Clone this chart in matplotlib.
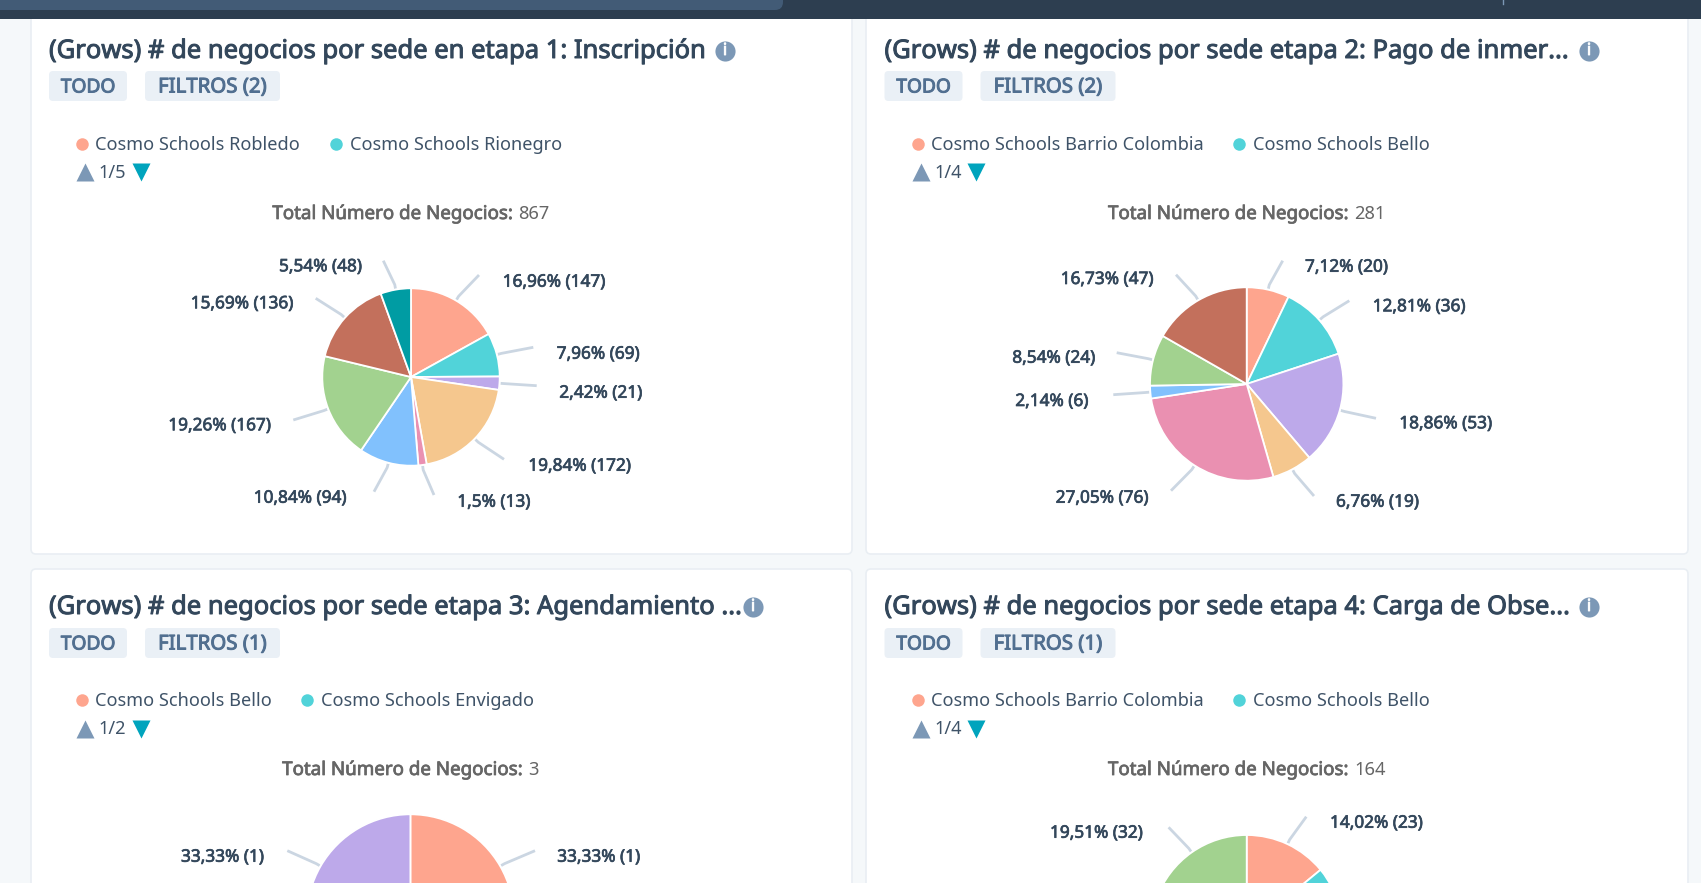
import matplotlib
matplotlib.use("Agg")
import matplotlib.pyplot as plt
import matplotlib.patheffects as pe
import numpy as np
from matplotlib.patches import FancyBboxPatch, Rectangle

W = 1701
H = 883
FONT = ["Noto Sans", "DejaVu Sans"]
plt.rcParams["font.family"] = FONT

# palette, same order in all the pies
peach = "#fea58e"
teal = "#51d3d9"
purple = "#bda9ea"
orange = "#f5c78e"
pink = "#ea90b1"
blue = "#81c1fd"
green = "#a2d28f"
brown = "#c3705c"
dark_teal = "#009ca3"

titles = ["(Grows) # de negocios por sede en etapa 1: Inscripción",
          "(Grows) # de negocios por sede etapa 2: Pago de inmer...",
          "(Grows) # de negocios por sede etapa 3: Agendamiento ...",
          "(Grows) # de negocios por sede etapa 4: Carga de Obse..."]
filters = ["FILTROS (2)", "FILTROS (2)", "FILTROS (1)", "FILTROS (1)"]
legend_a = ["Cosmo Schools Robledo", "Cosmo Schools Barrio Colombia", "Cosmo Schools Bello", "Cosmo Schools Barrio Colombia"]
legend_b = ["Cosmo Schools Rionegro", "Cosmo Schools Bello", "Cosmo Schools Envigado", "Cosmo Schools Bello"]
pages = ["1/5", "1/4", "1/2", "1/4"]
totals = ["867", "281", "3", "164"]

values1 = [147, 69, 21, 172, 13, 94, 167, 136, 48]
labels1 = ["16,96% (147)", "7,96% (69)", "2,42% (21)", "19,84% (172)", "1,5% (13)",
           "10,84% (94)", "19,26% (167)", "15,69% (136)", "5,54% (48)"]
colors1 = [peach, teal, purple, orange, pink, blue, green, brown, dark_teal]

values2 = [20, 36, 53, 19, 76, 6, 24, 47]
labels2 = ["7,12% (20)", "12,81% (36)", "18,86% (53)", "6,76% (19)", "27,05% (76)",
           "2,14% (6)", "8,54% (24)", "16,73% (47)"]
colors2 = [peach, teal, purple, orange, pink, blue, green, brown]

values3 = [1, 1, 1]
labels3 = ["33,33% (1)", None, "33,33% (1)"]
colors3 = [peach, teal, purple]

# only the first and last slice of this one are visible, the middle is a guess
values4 = [23, 26, 35, 24, 24, 32]
labels4 = ["14,02% (23)", None, None, None, None, "19,51% (32)"]
colors4 = [peach, teal, purple, orange, pink, green]

# layout, in reference pixels
card_dx = [0, 835.5, 0, 835.5]
title_y = [51.5, 51.5, 607.5, 607.5]
chip_y = [71, 71, 628, 628]
legend_y = [145, 145, 701, 701]
arrow_y = [172, 172, 729, 729]
total_y = [214, 214, 770, 770]
info_x = [725, 1589, 753, 1589]
legend_b_dot = [335.5, 1239, 307, 1239]

pie_center = [(411, 377), (1246.7, 384), (410.4, 918), (1246.7, 930.7)]
pie_radius = [88.7, 96.7, 103.7, 95.7]
pie_values = [values1, values2, values3, values4]
pie_labels = [labels1, labels2, labels3, labels4]
pie_colors = [colors1, colors2, colors3, colors4]
# where each connector ends, and left edge + centre of each label
conn_end = [
    [(479, 275), (533.3, 347.3), (536.7, 385.7), (504, 459.3), (434, 495),
     (374, 491.7), (293.3, 420), (315.7, 298.3), (383.3, 260.7)],
    [(1282.7, 260.7), (1349.3, 300.7), (1376, 418.3), (1314, 496), (1171, 490.7),
     (1113.3, 394.7), (1116.7, 352.7), (1176, 274.7)],
    [(535, 850.7), None, (287.3, 850.7)],
    [(1306.3, 816.7), None, None, None, None, (1168.6, 827.3)],
]
label_pos = [
    [(502.7, 281.7), (556.7, 353.7), (559.3, 392.7), (528.3, 465.7), (457.3, 501.7),
     (253.7, 497.7), (168.3, 425.3), (190.7, 303.3), (279, 266.3)],
    [(1305, 266.7), (1372.7, 306.3), (1399.3, 423.3), (1336, 501.7), (1055.7, 497.7),
     (1015.3, 401), (1012.3, 357.7), (1060.7, 279)],
    [(557.2, 856.7), None, (181, 856.7)],
    [(1330, 822.7), None, None, None, None, (1050, 832.7)],
]

fig = plt.figure(figsize=(W / 100, H / 100), dpi=100, facecolor="#f5f8fa")
bg = fig.add_axes([0, 0, 1, 1])
bg.set_xlim(0, W)
bg.set_ylim(H, 0)
bg.axis("off")


# the installed Noto Sans only renders regular, so thicken it with a stroke
def bold_text(x, y, s, size, color, stroke=0.55, ha="left"):
    t = bg.text(x, y, s, ha=ha, va="center", fontsize=size, color=color)
    t.set_path_effects([pe.withStroke(linewidth=stroke, foreground=color)])
    return t


def card(x, y, w, h):
    bg.add_patch(FancyBboxPatch((x, y), w, h, boxstyle="round,pad=0,rounding_size=5",
                                fc="white", ec="#e9eef3", lw=1.2))


def chip(x, w, y, text, size):
    bg.add_patch(FancyBboxPatch((x, y), w, 30, boxstyle="round,pad=0,rounding_size=4",
                                fc="#eaf0f6", ec="none"))
    bold_text(x + w / 2, y + 16.5, text, size, "#516f90", stroke=0.7, ha="center")


card(31, -10, 821, 564)
card(866, -10, 822, 564)
card(31, 569, 821, 340)
card(866, 569, 822, 340)

# top bar of the page
bg.add_patch(Rectangle((0, 0), W, 19, fc="#2d3e50", ec="none"))
bg.add_patch(FancyBboxPatch((-20, -20), 803, 30, boxstyle="round,pad=0,rounding_size=8",
                            fc="#425b76", ec="none"))
bg.plot([1503, 1503], [0, 4], color="#7c98b6", lw=1)

fig.canvas.draw()
renderer = fig.canvas.get_renderer()

for i in range(4):
    dx = card_dx[i]
    bold_text(49 + dx, title_y[i], titles[i], 18.4, "#33475b", stroke=0.7)
    bg.plot(info_x[i], title_y[i] - 0.5, "o", ms=14.5, color="#7c98b6", mec="none")
    bold_text(info_x[i], title_y[i] - 0.5, "i", 12, "white", stroke=0.6, ha="center")

    chip(49 + dx, 78, chip_y[i], "TODO", 13.8)
    chip(145 + dx, 135, chip_y[i], filters[i], 14.7)

    bg.plot(82 + dx, legend_y[i] - 1, "o", ms=9, color=peach, mec="none")
    bg.text(95.4 + dx, legend_y[i], legend_a[i], ha="left", va="center", fontsize=13.1,
            color="#3f5368")
    bg.plot(legend_b_dot[i], legend_y[i] - 1, "o", ms=9, color=teal, mec="none")
    bg.text(legend_b_dot[i] + 14, legend_y[i], legend_b[i], ha="left", va="center",
            fontsize=13.1, color="#3f5368")

    bg.plot(85 + dx, arrow_y[i], "^", ms=13.5, color="#7c98b6", mec="none")
    bg.text(98.6 + dx, arrow_y[i] + 0.5, pages[i], ha="left", va="center", fontsize=13.1,
            color="#3f5368")
    bg.plot(140.5 + dx, arrow_y[i], "v", ms=13.5, color="#00a4bd", mec="none")

    # bold + regular text centred together
    cx = pie_center[i][0]
    t1 = bold_text(0, total_y[i], "Total Número de Negocios:", 13.5, "#666666")
    t2 = bg.text(0, total_y[i], totals[i], ha="left", va="center", fontsize=13.2,
                 color="#666666")
    w1 = t1.get_window_extent(renderer).width
    w2 = t2.get_window_extent(renderer).width
    t1.set_x(cx - (w1 + w2 + 5) / 2)
    t2.set_x(cx - (w1 + w2 + 5) / 2 + w1 + 5)

    # pie
    cxp, cyp = pie_center[i]
    r = pie_radius[i]
    ax = fig.add_axes([(cxp - r) / W, 1 - (cyp + r) / H, 2 * r / W, 2 * r / H])
    ax.pie(pie_values[i], colors=pie_colors[i], startangle=90, counterclock=False, radius=1,
           wedgeprops={"edgecolor": "white", "linewidth": 1.3})
    ax.set_xlim(-1, 1)
    ax.set_ylim(-1, 1)
    ax.axis("off")

    # connectors start from the middle of each wedge
    vals = np.array(pie_values[i], dtype=float)
    mids = (np.cumsum(vals) - vals / 2) / vals.sum() * 2 * np.pi
    for j, mid in enumerate(mids):
        if pie_labels[i][j] is None:
            continue
        ex, ey = conn_end[i][j]
        x0 = cxp + (r + 1) * np.sin(mid)
        y0 = cyp - (r + 1) * np.cos(mid)
        x1 = cxp + (r + 5) * np.sin(mid)
        y1 = cyp - (r + 5) * np.cos(mid)
        bg.plot([x0, x1, ex], [y0, y1, ey], color="#cbd6e2", lw=2, solid_capstyle="butt")
        lx, ly = label_pos[i][j]
        bold_text(lx, ly, pie_labels[i][j], 12.4, "#33475b", stroke=0.5)

fig.savefig("out.png", dpi=100, facecolor=fig.get_facecolor())
